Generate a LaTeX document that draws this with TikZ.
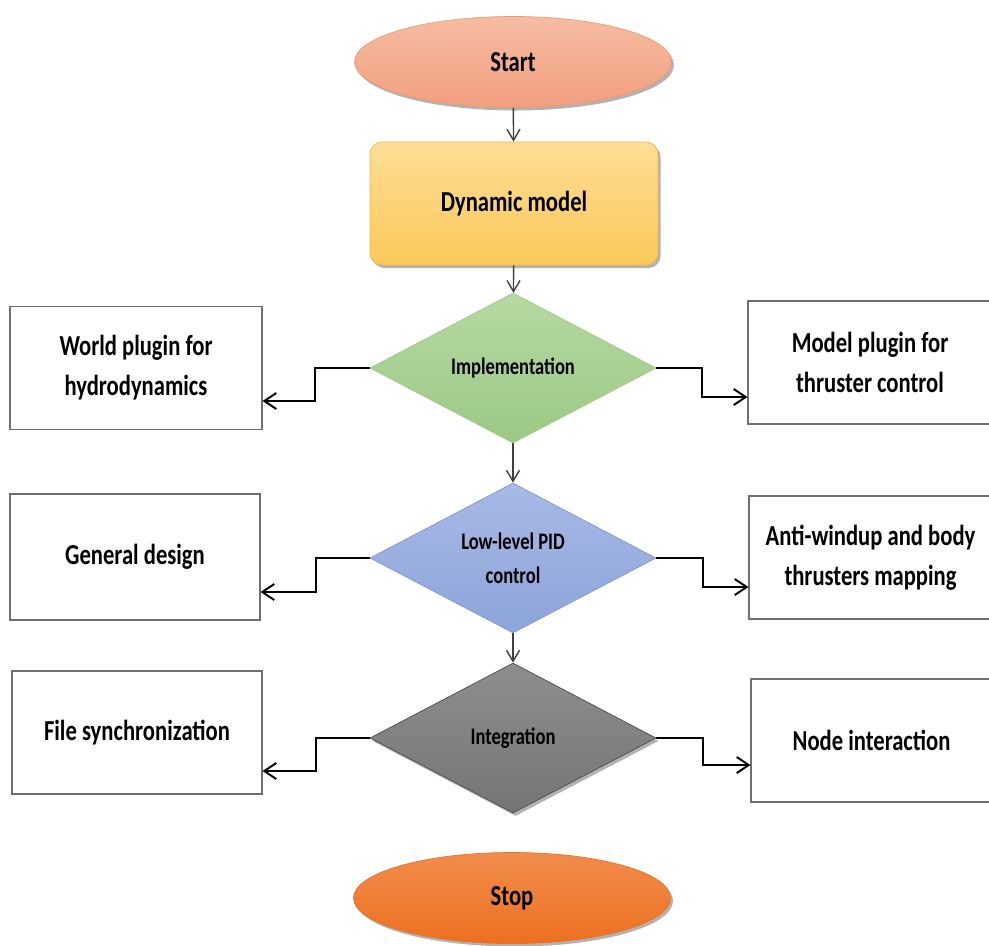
\documentclass[tikz,border=0pt]{standalone}
\usepackage{fontspec}
\setmainfont{Carlito}[FakeStretch=0.78]
\usetikzlibrary{shapes.geometric,shadows,arrows.meta}

\definecolor{startTop}{HTML}{F6BCA3}
\definecolor{startBot}{HTML}{F29F7F}
\definecolor{startLine}{HTML}{EE9A70}
\definecolor{dynTop}{HTML}{FFDD96}
\definecolor{dynBot}{HTML}{FBC95A}
\definecolor{dynLine}{HTML}{F5B73B}
\definecolor{implTop}{HTML}{B6D9A1}
\definecolor{implBot}{HTML}{9CC885}
\definecolor{pidTop}{HTML}{A8B9E5}
\definecolor{pidBot}{HTML}{8DA4DA}
\definecolor{pidLine}{HTML}{7E96D2}
\definecolor{intTop}{HTML}{8E8E8E}
\definecolor{intBot}{HTML}{757575}
\definecolor{stopTop}{HTML}{F18D4D}
\definecolor{stopBot}{HTML}{EC7020}
\definecolor{boxLine}{HTML}{707070}

\begin{document}
\begin{tikzpicture}[
    every node/.style={font=\bfseries\fontsize{16.5}{22.7}\selectfont, align=center},
    soft shadow/.style={drop shadow={shadow xshift=0.05cm, shadow yshift=-0.06cm, opacity=0.3, fill=black}},
    term node/.style={ellipse, inner sep=0pt, minimum width=6.34cm, minimum height=1.82cm, soft shadow},
    process node/.style={rectangle, rounded corners=0.24cm, minimum width=5.76cm, minimum height=2.46cm,
                         draw=dynLine, top color=dynTop, bottom color=dynBot, soft shadow},
    decision node/.style={diamond, inner sep=0pt, aspect=1.9, minimum width=5.72cm, minimum height=3cm,
                          font=\bfseries\fontsize{13.5}{19.3}\selectfont},
    box node/.style={rectangle, draw=boxLine, line width=0.6pt, fill=white, minimum height=2.46cm},
    vline/.style={-{Straight Barb[length=2.2mm, width=2.6mm]}, draw=black!75, line width=0.8pt},
    conn/.style={-{Straight Barb[length=2.4mm, width=3.2mm]}, draw=black, line width=1.1pt}
  ]
  \useasboundingbox (0,0) rectangle (19.78,-18.9);

  % main column
  \node[term node, draw=startLine, top color=startTop, bottom color=startBot] (start) at (10.26,-1.24) {Start};
  \node[process node] (dyn) at (10.28,-4.07) {Dynamic model};
  \node[decision node, draw=implBot, top color=implTop, bottom color=implBot] (impl) at (10.26,-7.36) {Implementation};
  \node[decision node, draw=pidLine, top color=pidTop, bottom color=pidBot] (pid) at (10.26,-11.16) {Low-level PID\\control};
  \node[decision node, draw=black!70, top color=intTop, bottom color=intBot, soft shadow] (integ) at (10.26,-14.76) {Integration};
  \node[term node, draw=stopBot, top color=stopTop, bottom color=stopBot] (stop) at (10.24,-17.96) {Stop};

  % side boxes
  \node[box node, minimum width=5.04cm] (world) at (2.72,-7.36) {World plugin for\\hydrodynamics};
  \node[box node, minimum width=4.88cm] (model) at (17.4,-7.25) {Model plugin for\\thruster control};
  \node[box node, minimum width=5.0cm, minimum height=2.52cm] (general) at (2.7,-11.14) {General design};
  \node[box node, minimum width=4.86cm] (anti) at (17.41,-11.15) {Anti-windup and body\\thrusters mapping};
  \node[box node, minimum width=5.0cm] (file) at (2.74,-14.65) {File synchronization};
  \node[box node, minimum width=4.82cm] (inter) at (17.43,-14.81) {Node interaction};

  \path
    (start) edge[vline] (dyn)
    (dyn)   edge[vline] (impl)
    (impl)  edge[vline] (pid)
    (pid)   edge[vline] (integ);

  \draw[conn] (impl.west) -- ++(-1.1,0) |- ([yshift=-0.66cm]world.east);
  \draw[conn] (impl.east) -- ++(0.92,0) |- ([yshift=-0.69cm]model.west);
  \draw[conn] (pid.west) -- ++(-1.08,0) |- ([yshift=-0.7cm]general.east);
  \draw[conn] (pid.east) -- ++(0.94,0) |- ([yshift=-0.59cm]anti.west);
  \draw[conn] (integ.west) -- ++(-1.08,0) |- ([yshift=-0.77cm]file.east);
  \draw[conn] (integ.east) -- ++(0.94,0) |- ([yshift=-0.49cm]inter.west);
\end{tikzpicture}
\end{document}
